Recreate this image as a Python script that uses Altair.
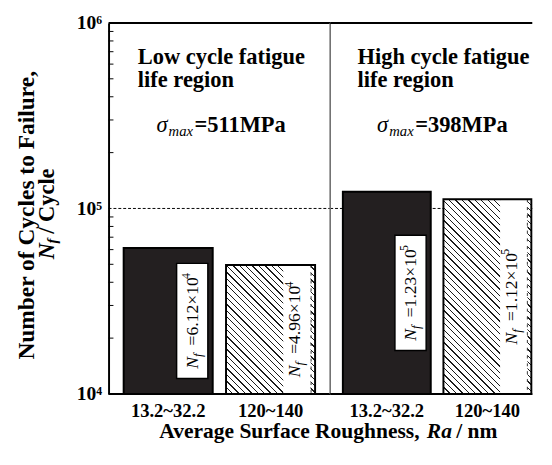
import math
import altair as alt
import pandas as pd

# ---------------- data ----------------
region_line1 = ["Low cycle fatigue", "High cycle fatigue"]
region_line2 = ["life region", "life region"]
stress_text = ["=511MPa", "=398MPa"]
roughness = ["13.2~32.2", "120~140"]
cycles_low = [6.12e4, 4.96e4]
cycles_high = [1.23e5, 1.12e5]
mantissa_low = ["6.12", "4.96"]
mantissa_high = ["1.23", "1.12"]
exponent_low = ["4", "4"]
exponent_high = ["5", "5"]
bar_kind = ["solid", "hatched"]
y_ticks = [1e4, 1e5, 1e6]
minor_ticks = [2e4, 3e4, 4e4, 5e4, 6e4, 7e4, 8e4, 9e4,
               2e5, 3e5, 4e5, 5e5, 6e5, 7e5, 8e5, 9e5]
ref_level = [1e5]
y_title_1 = "Number of Cycles to Failure,"
y_title_unit = "/ Cycle"
x_title_main = "Average Surface Roughness,"
x_title_sym = "Ra"
x_title_unit = "/ nm"

# ---------------- layout / style ----------------
SERIF = "Liberation Serif"
PLOT_H = 380
W1, W2 = 227, 207
Y_MIN, Y_MAX = 1e4, 1e6

ys = alt.Scale(type="log", domain=[Y_MIN, Y_MAX], nice=False)
one = pd.DataFrame({"k": [0]})


def hatch_fill(w, h, spacing=6.6, frac=0.2, ink="#1b1b1b"):
    s = (w + h) / (w * w + h * h)
    n = max(1, round((w + h) / spacing))
    stops = []
    for k in range(n):
        a, b, c = k / n, (k + frac) / n, (k + 1) / n
        stops += [alt.GradientStop(offset=a, color=ink),
                  alt.GradientStop(offset=b, color=ink),
                  alt.GradientStop(offset=b, color="white"),
                  alt.GradientStop(offset=c, color="white")]
    return alt.LinearGradient(gradient="linear", stops=stops,
                              x1=0, y1=1, x2=s * w, y2=1 - s * h)


def txt(x, y, text, size=23, weight="bold", style="normal", align="left",
        baseline="alphabetic", angle=0, dx=0, dy=0):
    kw = dict(font=SERIF, fontSize=size, fontWeight=weight, fontStyle=style,
              align=align, baseline=baseline, color="black", dx=dx, dy=dy)
    if angle:
        kw["angle"] = angle
    return alt.Chart(one).mark_text(**kw).encode(
        x=alt.value(x), y=alt.value(y), text=alt.value(text))


def panel(i, width, range_w, p_inner, pad_outer, cycles, mant, expo, show_y):
    df = pd.DataFrame({
        "rough": roughness,
        "cycles": cycles,
        "kind": bar_kind,
        "main": ["=" + m + "\u00d710" for m in mant],
        "exp": expo,
    })
    base = alt.Chart(df).transform_calculate(mid="sqrt(datum.cycles * 10000)")

    xs = alt.Scale(domain=roughness, paddingInner=p_inner,
                   paddingOuter=pad_outer, range=[0, range_w])
    xaxis = alt.Axis(title=None, labelFont=SERIF, labelFontSize=19,
                     labelFontWeight="bold", labelColor="black", ticks=False,
                     tickSize=0, labelPadding=8, domain=False, labelAngle=0)
    if show_y:
        yaxis = alt.Axis(values=y_ticks, title=None, ticks=False, tickSize=0,
                         grid=False, labelFont=SERIF, labelFontSize=20,
                         labelFontWeight="bold", labelColor="black",
                         labelPadding=7, domainColor="black", domainWidth=2,
                         labelExpr="datum.value == 10000 ? '10\u2074' : "
                                   "datum.value == 100000 ? '10\u2075' : '10\u2076'")
    else:
        yaxis = None
    X = alt.X("rough:N", scale=xs, axis=xaxis)
    XL = alt.X("rough:N", scale=xs, axis=xaxis, bandPosition=0.78)
    XB = alt.X("rough:N", scale=xs, axis=xaxis, bandPosition=0.77)
    XD = alt.X("rough:N", scale=xs, axis=xaxis, bandPosition=0.955)
    Y = alt.Y("cycles:Q", scale=ys, axis=yaxis)
    YM = alt.Y("mid:Q", scale=ys, axis=yaxis)

    step = range_w / (len(roughness) - p_inner + 2 * pad_outer)
    bw = step * (1 - p_inner)
    hatched_val = cycles[1]
    hh = PLOT_H * math.log10(hatched_val / Y_MIN) / math.log10(Y_MAX / Y_MIN)

    solid = base.transform_filter("datum.kind == 'solid'")
    hatched = base.transform_filter("datum.kind == 'hatched'")

    layers = []
    layers.append(alt.Chart(pd.DataFrame({"v": ref_level})).mark_rule(
        color="black", strokeWidth=1, strokeDash=[3, 2]).encode(
        y=alt.Y("v:Q", scale=ys, axis=yaxis), x=alt.value(0), x2=alt.value(width)))
    if not show_y:
        layers.append(alt.Chart(one).mark_rule(color="#6e6e6e", strokeWidth=1.6).encode(
            x=alt.value(0), y=alt.value(0), y2=alt.value(PLOT_H)))
    layers.append(solid.mark_bar(fill="#231f20", stroke="black", strokeWidth=2,
                                 opacity=1).encode(x=X, y=Y, y2=alt.datum(Y_MIN)))
    layers.append(hatched.mark_bar(fill=hatch_fill(bw, hh), opacity=1).encode(
        x=X, y=Y, y2=alt.datum(Y_MIN)))
    layers.append(hatched.mark_bar(fill="white", width=28, xOffset=27, opacity=1).encode(
        x=X, y=Y, y2=alt.datum(Y_MIN)))
    layers.append(hatched.mark_rule(color="#333333", strokeWidth=1,
                                    strokeDash=[3, 5]).encode(
        x=XD, y=Y, y2=alt.datum(Y_MIN)))
    layers.append(hatched.mark_bar(fill="white", fillOpacity=0, stroke="black",
                                   strokeWidth=2).encode(x=X, y=Y, y2=alt.datum(Y_MIN)))
    layers.append(solid.mark_tick(orient="vertical", thickness=32, size=118,
                                  fill="white", stroke="black", strokeWidth=1.5,
                                  opacity=1, filled=True).encode(x=XB, y=YM))
    tkw = dict(font=SERIF, angle=270, align="left", baseline="middle", color="black")
    layers.append(base.mark_text(fontSize=18, fontStyle="italic", dx=-49, **tkw).encode(
        x=XL, y=YM, text=alt.value("N")))
    layers.append(base.mark_text(fontSize=13, fontStyle="italic", dx=-37, dy=5, **tkw).encode(
        x=XL, y=YM, text=alt.value("f")))
    layers.append(base.mark_text(fontSize=18, dx=-25, **tkw).encode(
        x=XL, y=YM, text="main:N"))
    layers.append(base.mark_text(fontSize=12, dx=43, dy=-7, **tkw).encode(
        x=XL, y=YM, text="exp:N"))

    if show_y:
        layers.append(alt.Chart(pd.DataFrame({"t": minor_ticks})).mark_rule(
            color="black", strokeWidth=1).encode(
            y=alt.Y("t:Q", scale=ys, axis=yaxis), x=alt.value(0), x2=alt.value(5)))

    # frame: top border and bottom axis line
    layers.append(alt.Chart(one).mark_rule(color="black", strokeWidth=2).encode(
        x=alt.value(0), x2=alt.value(width), y=alt.value(0)))
    layers.append(alt.Chart(one).mark_rule(color="black", strokeWidth=2).encode(
        x=alt.value(0), x2=alt.value(width), y=alt.value(PLOT_H)))

    tx = 30 if show_y else 28
    sx = 49 if show_y else 48
    layers.append(txt(tx, 42, region_line1[i]))
    layers.append(txt(tx, 66, region_line2[i]))
    layers.append(txt(sx, 112, "\u03c3", style="italic", weight="normal"))
    layers.append(txt(sx + 12.5, 116, "max", size=15, style="italic", weight="normal"))
    layers.append(txt(sx + 39, 112, stress_text[i]))

    if show_y:
        # y-axis title
        layers.append(txt(-83, 197, y_title_1, size=24, align="center",
                          baseline="middle", angle=270))
        layers.append(txt(-63, 197, "N", size=23, style="italic", angle=270,
                          baseline="middle", dx=-45))
        layers.append(txt(-63, 197, "f", size=15, style="italic", angle=270,
                          baseline="middle", dx=-29, dy=5))
        layers.append(txt(-63, 197, y_title_unit, size=23, angle=270,
                          baseline="middle", dx=-19))
        # x-axis title
        layers.append(txt(52, 425, x_title_main, size=22))
        layers.append(txt(326, 425, x_title_sym, size=22, style="italic"))
        layers.append(txt(356, 425, x_title_unit, size=22))
        # white (invisible) anchor fixing the top-left corner of the drawing
        layers.append(alt.Chart(one).mark_rule(color="white", strokeWidth=1).encode(
            x=alt.value(-102.5), x2=alt.value(-102), y=alt.value(-9.5), y2=alt.value(-9)))

    return alt.layer(*layers).properties(width=width, height=PLOT_H)


p1 = panel(0, W1, W1, 0.13, 0.1475, cycles_low, mantissa_low, exponent_low, True)
p2 = panel(1, W2, 219, 0.126, 0.126, cycles_high, mantissa_high, exponent_high, False)

chart = alt.hconcat(p1, p2, spacing=0, bounds="flush").properties(
    padding=0).configure_view(stroke=None)

chart.save("out.html", embed_options={"renderer": "svg", "actions": False})
